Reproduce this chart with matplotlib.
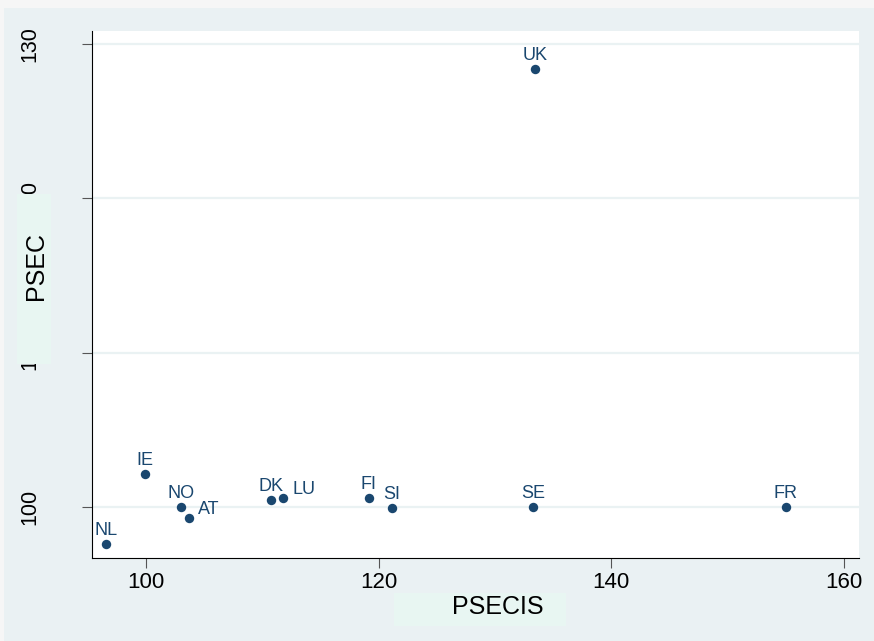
import matplotlib
matplotlib.use("Agg")
import matplotlib.pyplot as plt
from matplotlib.patches import Rectangle

plt.rcParams['font.family'] = ['Liberation Sans', 'DejaVu Sans']

countries = ["NL", "IE", "NO", "AT", "DK", "LU", "FI", "SI", "SE", "FR", "UK"]
psecis = [96.54, 99.94, 103.03, 103.72, 110.77, 111.78, 119.17, 121.12, 133.31, 154.98, 133.44]
psec = [97.60, 102.14, 100.02, 99.27, 100.45, 100.56, 100.56, 99.95, 100.0, 100.0, 128.38]
right_labels = ["AT", "LU"]
xticks = [100, 120, 140, 160]
yticks = [100, 110, 120, 130]

W, H = 874, 641
fig = plt.figure(figsize=(W / 100, H / 100), dpi=100)
fig.patch.set_facecolor("#eaf1f3")

def fx(px):
    return px / W

def fy(py):
    return 1 - py / H

# light outer strip top/left
fig.patches.append(Rectangle((0, fy(8)), 1, 8 / H, transform=fig.transFigure,
                             facecolor="#f6f6f6", edgecolor="none", zorder=0))
fig.patches.append(Rectangle((0, 0), 4 / W, 1, transform=fig.transFigure,
                             facecolor="#f6f6f6", edgecolor="none", zorder=0))

ax = fig.add_axes([fx(92), fy(558), fx(859) - fx(92), (558 - 31) / H])
ax.set_facecolor("white")
navy = "#1a476f"

ax.scatter(psecis, psec, s=46, color=navy, zorder=3, linewidths=0)
for c, x, y in zip(countries, psecis, psec):
    if c in right_labels:
        ax.annotate(c, (x, y), xytext=(6.5, 3.3), textcoords="offset points",
                    ha="left", va="baseline", fontsize=13, color=navy)
    else:
        ax.annotate(c, (x, y), xytext=(0, 6.5), textcoords="offset points",
                    ha="center", va="baseline", fontsize=13, color=navy)

ax.set_xlim(95.36, 161.29)
ax.set_ylim(96.70, 130.84)
ax.set_xticks(xticks)
ax.set_yticks(yticks)
ax.set_xticklabels([str(v) for v in xticks], fontsize=16)
ax.set_yticklabels([str(v) for v in yticks], fontsize=15.5, rotation=90, va="center")
ax.tick_params(axis="both", length=7, width=0.8, color="#555555")
ax.tick_params(axis="x", pad=3)
ax.tick_params(axis="y", pad=30)
ax.grid(axis="y", color="#eaf2f3", linewidth=1.6)
ax.set_axisbelow(True)
for s in ["top", "right"]:
    ax.spines[s].set_visible(False)
for s in ["left", "bottom"]:
    ax.spines[s].set_color("black")
    ax.spines[s].set_linewidth(0.8)

# axis title boxes and titles (drawn over the tick labels, as in the reference)
box_col = "#e8f6f2"
fig.patches.append(Rectangle((fx(17), fy(364)), (51 - 17) / W, (364 - 194) / H,
                             transform=fig.transFigure, facecolor=box_col,
                             edgecolor="none", zorder=2))
fig.patches.append(Rectangle((fx(394), fy(626)), (566 - 394) / W, (626 - 593) / H,
                             transform=fig.transFigure, facecolor=box_col,
                             edgecolor="none", zorder=2))
fig.text(fx(36), fy(266), "PSEC", rotation=90, ha="center", va="center",
         fontsize=18, color="black", zorder=3)
fig.text(fx(498), fy(607), "PSECIS", ha="center", va="center",
         fontsize=18, color="black", zorder=3)

fig.savefig("out.png", dpi=100, facecolor=fig.get_facecolor())
